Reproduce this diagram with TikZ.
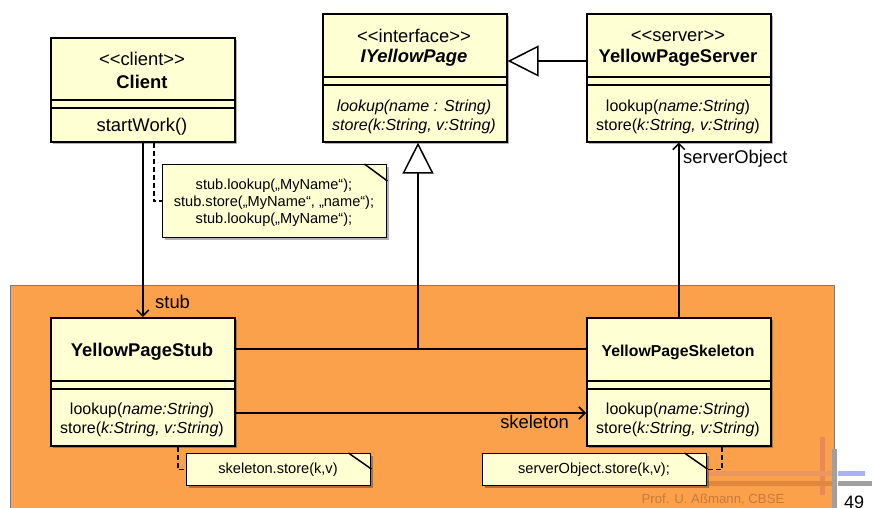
\documentclass[tikz,border=0pt]{standalone}
\usepackage{fontspec}
\setmainfont{Liberation Sans}
\usetikzlibrary{arrows.meta,shadows,calc}
\definecolor{boxfill}{HTML}{FFFFD4}
\definecolor{pkgorange}{HTML}{FBA14C}
\definecolor{pkgborder}{HTML}{7A7A7A}
\definecolor{barlight}{HTML}{EC9660}
\definecolor{bardark}{HTML}{E0873E}
\definecolor{barvert}{HTML}{E88A55}
\definecolor{barblue}{HTML}{AAB0F8}
\definecolor{bargray}{HTML}{A0A0A0}
\definecolor{footcol}{HTML}{C87A3C}
\begin{document}
\begin{tikzpicture}[x=1pt,y=-1pt,
  cls/.style={draw, line width=1.6pt, fill=boxfill, inner sep=0pt, anchor=north west,
    drop shadow={shadow xshift=2.5pt, shadow yshift=-2.5pt, opacity=0.3, fill=black}},
  notebox/.style={cls, line width=1.4pt},
  seprule/.style={line width=1.6pt},
  txt/.style={inner sep=0pt, font=\fontsize{18.4}{22}\selectfont},
  mth/.style={inner sep=0pt, font=\fontsize{16}{19}\selectfont, align=center},
  ntxt/.style={inner sep=0pt, font=\fontsize{14.6}{17}\selectfont, align=center},
  conn/.style={line width=1.5pt},
  assoc/.style={conn, -{Straight Barb[length=6pt,width=12pt]}},
  inherit/.style={conn, -{Triangle[open, length=31pt, width=31pt, fill=white]}},
  notelink/.style={conn, dash pattern=on 5pt off 3pt},
  lbl/.style={inner sep=0pt, font=\fontsize{18.4}{22}\selectfont},
]
\useasboundingbox (0,0) rectangle (872,508);
\clip (0,0) rectangle (872,508);
\fill[white] (0,0) rectangle (872,508);

% package area
\node[draw=pkgborder, fill=pkgorange, line width=0.8pt, inner sep=0pt, anchor=north west,
  minimum width=824pt, minimum height=240pt] (pkg) at (10,285) {};

% slide decoration
\fill[barvert] (820,437) rectangle (825,495);
\fill[barlight] (700,471) rectangle (832,476);
\fill[bardark] (706,481) rectangle (832,486);
\fill[bargray] (832,449) rectangle (837,508);
\fill[barblue] (838,471) rectangle (865,476);
\fill[bargray] (838,481) rectangle (872,486);
\node[inner sep=0pt, text=footcol, font=\fontsize{13.2}{15}\selectfont] (foot) at (713,500) {Prof. U. Aßmann, CBSE};
\node[inner sep=0pt, anchor=north west, font=\fontsize{18}{21}\selectfont] (pageno) at (844,496) {49};

% Client
\node[cls, minimum width=184pt, minimum height=104pt] (client) at (50,37) {};
\draw[seprule] (client.west |- 0,100) -- (client.east |- 0,100);
\draw[seprule] (client.west |- 0,108) -- (client.east |- 0,108);
\node[txt] (clientst) at (142,59) {<{}<client>{}>};
\node[txt, font=\fontsize{18.4}{22}\selectfont\bfseries] (clientnm) at (142,82) {Client};
\node[txt] (clientop) at (142,127) {startWork()};

% IYellowPage
\node[cls, minimum width=184pt, minimum height=128pt] (iface) at (322,13) {};
\draw[seprule] (iface.west |- 0,77) -- (iface.east |- 0,77);
\draw[seprule] (iface.west |- 0,85) -- (iface.east |- 0,85);
\node[txt] (ifacest) at (414,36) {<{}<interface>{}>};
\node[txt, font=\fontsize{18.4}{22}\selectfont\bfseries\itshape] (ifacenm) at (414,58) {IYellowPage};
\node[mth, font=\fontsize{16}{19}\selectfont\itshape] (ifaceop) at (414,117) {lookup(name : String)\\store(k:String, v:String)};

% YellowPageServer
\node[cls, minimum width=184pt, minimum height=128pt] (server) at (586,13) {};
\draw[seprule] (server.west |- 0,77) -- (server.east |- 0,77);
\draw[seprule] (server.west |- 0,85) -- (server.east |- 0,85);
\node[txt] (serverst) at (678,36) {<{}<server>{}>};
\node[txt, font=\fontsize{18.4}{22}\selectfont\bfseries] (servernm) at (678,58) {YellowPageServer};
\node[mth] (serverop) at (678,117) {lookup(\textit{name:String})\\store(\textit{k:String, v:String})};

% YellowPageStub
\node[cls, minimum width=184pt, minimum height=128pt] (stub) at (50,317) {};
\draw[seprule] (stub.west |- 0,381) -- (stub.east |- 0,381);
\draw[seprule] (stub.west |- 0,389) -- (stub.east |- 0,389);
\node[txt, font=\fontsize{18.4}{22}\selectfont\bfseries] (stubnm) at (142,352) {YellowPageStub};
\node[mth] (stubop) at (142,420) {lookup(\textit{name:String})\\store(\textit{k:String, v:String})};

% YellowPageSkeleton
\node[cls, minimum width=184pt, minimum height=128pt] (skel) at (586,317) {};
\draw[seprule] (skel.west |- 0,381) -- (skel.east |- 0,381);
\draw[seprule] (skel.west |- 0,389) -- (skel.east |- 0,389);
\node[txt, font=\fontsize{15.8}{19}\selectfont\bfseries] (skelnm) at (678,352) {YellowPageSkeleton};
\node[mth] (skelop) at (678,420) {lookup(\textit{name:String})\\store(\textit{k:String, v:String})};

% notes
\node[notebox, minimum width=224pt, minimum height=73pt] (n1) at (162,164) {};
\draw[conn] ([xshift=-23pt]n1.north east) -- ([yshift=-17pt]n1.north east);
\node[ntxt] (n1t) at (274,203) {stub.lookup(„MyName“);\\stub.store(„MyName“, „name“);\\stub.lookup(„MyName“);};

\node[notebox, minimum width=184pt, minimum height=32pt] (n2) at (186,453) {};
\draw[conn] ([xshift=-23pt]n2.north east) -- ([yshift=-16pt]n2.north east);
\node[ntxt] (n2t) at (278,470) {skeleton.store(k,v)};

\node[notebox, minimum width=224pt, minimum height=32pt] (n3) at (482,453) {};
\draw[conn] ([xshift=-23pt]n3.north east) -- ([yshift=-16pt]n3.north east);
\node[ntxt] (n3t) at (594,470) {serverObject.store(k,v);};

% note links
\draw[notelink] (client.south -| 154,0) |- (n1.west);
\draw[notelink] (stub.south -| 178,0) |- (n2.west);
\draw[notelink] (skel.south -| 722,0) |- (n3.east);

% inheritance
\draw[inherit] (server.west |- 0,61) -- (iface.east |- 0,61);
\coordinate (junc) at (418,349);
\draw[conn] (stub.east |- junc) -- (skel.west |- junc);
\draw[inherit] (junc) -- (iface.south -| junc);

% associations
\draw[assoc] (client.south) -- (stub.north);
\node[lbl, anchor=west] (stublbl) at (155,302) {stub};
\draw[assoc] (stub.east |- 0,413) -- (skel.west |- 0,413);
\node[lbl, anchor=east] (skellbl) at (569,422) {skeleton};
\draw[assoc] (skel.north) -- (server.south);
\node[lbl, anchor=west] (srvlbl) at (683,159) {serverObject};
\end{tikzpicture}
\end{document}
